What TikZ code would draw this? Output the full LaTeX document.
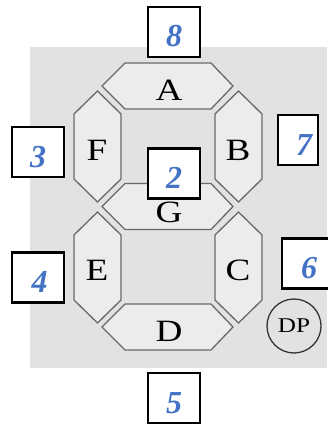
\documentclass[tikz,border=0pt]{standalone}
\usepackage{fontspec}
\setmainfont{Liberation Serif}
\newfontfamily\segfont[FakeStretch=1.2]{Liberation Serif}
\usetikzlibrary{positioning}

\definecolor{panelgray}{RGB}{226,226,226}
\definecolor{segfill}{RGB}{236,236,236}
\definecolor{segline}{RGB}{105,105,105}
\definecolor{pinblue}{RGB}{68,114,196}

\begin{document}
\begin{tikzpicture}[
    x=1pt, y=-1pt,
    every node/.style={font=\small},
    seg/.style={fill=segfill, draw=segline, line width=1.3pt, line join=miter},
    seglabel/.style={font=\segfont\fontsize{31}{31}\selectfont, text=black, inner sep=0pt},
    pinbox/.style={draw=black, line width=2.4pt, fill=white, minimum width=52pt, minimum height=50pt,
        inner sep=0pt, text height=30pt, text depth=0pt,
        font=\fontsize{32}{32}\selectfont\bfseries\itshape, text=pinblue},
]
\useasboundingbox (0,0) rectangle (327,425);

% === Display panel ===
\fill[panelgray] (30,47) rectangle (327,368);

% === Horizontal segments (A, G, D) ===
\draw[seg] (102,86) -- (125,63) -- (211,63) -- (233,86) -- (211,109) -- (125,109) -- cycle;
\draw[seg] (102,206.5) -- (125,183.5) -- (211,183.5) -- (233,206.5) -- (211,229.5) -- (125,229.5) -- cycle;
\draw[seg] (102,327) -- (125,304) -- (211,304) -- (233,327) -- (211,350) -- (125,350) -- cycle;

% === Vertical segments (F, B, E, C) ===
\draw[seg] (97.5,91) -- (121,114) -- (121,179) -- (97.5,202) -- (74,179) -- (74,114) -- cycle;
\draw[seg] (238.5,91) -- (262,114) -- (262,179) -- (238.5,202) -- (215,179) -- (215,114) -- cycle;
\draw[seg] (97.5,212) -- (121,235) -- (121,300) -- (97.5,323) -- (74,300) -- (74,235) -- cycle;
\draw[seg] (238.5,212) -- (262,235) -- (262,300) -- (238.5,323) -- (215,300) -- (215,235) -- cycle;

% === Segment letters ===
\node[seglabel] (segA) at (169,90) {A};
\node[seglabel] (segB) at (238,150) {B};
\node[seglabel] (segC) at (238,270) {C};
\node[seglabel] (segD) at (169,331) {D};
\node[seglabel] (segE) at (97,270) {E};
\node[seglabel] (segF) at (97,150) {F};
\node[seglabel] (segG) at (169,212) {G};

% === Decimal point ===
\node[circle, draw=black!80, line width=1.3pt, minimum size=54pt, inner sep=0pt,
      font=\segfont\fontsize{21}{21}\selectfont] (dp) at (294,326) {DP};

% === Pin numbers ===
\node[pinbox] (pin8) at (174,32) {8};
\node[pinbox] (pin2) at (174,173.5) {2};
\node[pinbox] (pin3) at (38,152) {3};
\node[pinbox] (pin4) at (38,277.5) {\hspace*{3pt}4};
\node[pinbox] (pin5) at (174,398) {5};
\node[pinbox, minimum width=40pt] (pin7) at (298,140) {\hspace*{12pt}7};
\node[pinbox, minimum width=54pt] (pin6) at (309,263.5) {6};

\end{tikzpicture}
\end{document}
